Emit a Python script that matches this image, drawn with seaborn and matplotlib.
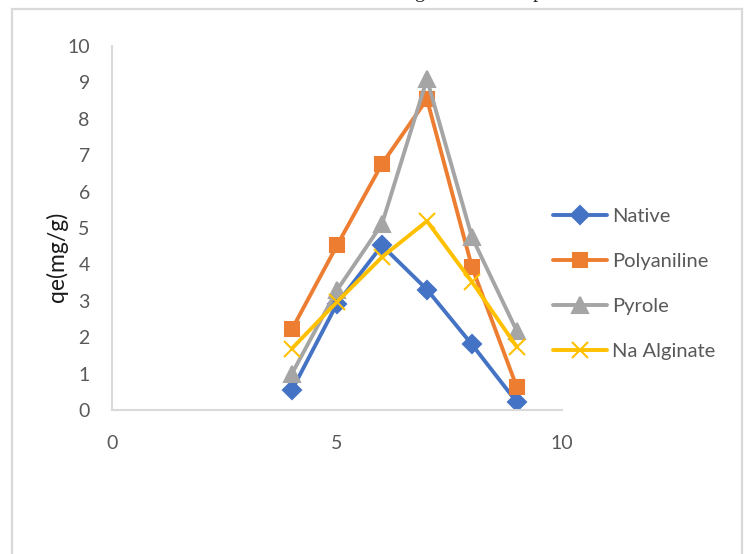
import pandas as pd
import seaborn as sns
import matplotlib.pyplot as plt
from matplotlib.patches import Rectangle

# valores
ph = [4, 5, 6, 7, 8, 9]
native = [0.55, 2.92, 4.52, 3.31, 1.80, 0.21]
polyaniline = [2.22, 4.52, 6.76, 8.54, 3.93, 0.62]
pyrole = [1.00, 3.29, 5.11, 9.09, 4.75, 2.16]
na_alginate = [1.69, 2.97, 4.20, 5.19, 3.52, 1.73]
series = ["Native", "Polyaniline", "Pyrole", "Na Alginate"]

df = pd.DataFrame({"pH": ph * 4,
                   "qe": native + polyaniline + pyrole + na_alginate,
                   "Serie": [s for s in series for _ in ph]})

sns.set_style("white")
plt.rcParams["font.family"] = ["Lato", "DejaVu Sans"]

colores = {"Native": "#4472C4", "Polyaniline": "#ED7D31",
           "Pyrole": "#A5A5A5", "Na Alginate": "#FFC000"}
marcadores = {"Native": "D", "Polyaniline": "s", "Pyrole": "^", "Na Alginate": "x"}
tamanos = {"Native": 9, "Polyaniline": 10, "Pyrole": 11, "Na Alginate": 11}

fig = plt.figure(figsize=(7.45, 5.54), dpi=100)
ax = fig.add_axes([0.1503, 0.2599, 0.604, 0.657])

# una llamada por serie porque se mezclan marcadores rellenos y de linea
for s in series:
    sns.lineplot(data=df[df["Serie"] == s], x="pH", y="qe", label=s,
                 color=colores[s], marker=marcadores[s], linewidth=2.8,
                 markersize=tamanos[s], markeredgewidth=1.5,
                 markeredgecolor=colores[s], ax=ax)

ax.set_xlim(0, 10)
ax.set_ylim(0, 10)
ax.set_xticks([0, 5, 10])
ax.set_yticks(range(0, 11))
ax.tick_params(axis="y", length=0, pad=16, labelsize=14, labelcolor="#595959")
ax.tick_params(axis="x", length=0, pad=18, labelsize=14, labelcolor="#595959")
ax.set_xlabel("")
ax.set_ylabel("qe(mg/g)", fontsize=16.5, color="#1a1a1a")
ax.yaxis.set_label_coords(-0.098, 0.42)
for lado in ["top", "right"]:
    ax.spines[lado].set_visible(False)
for lado in ["left", "bottom"]:
    ax.spines[lado].set_color("#d9d9d9")
    ax.spines[lado].set_linewidth(1.5)

leg = ax.legend(loc="center left", bbox_to_anchor=(0.94, 0.346), frameon=False,
                handlelength=2.7, labelspacing=1.38,
                handletextpad=0.25, prop={"size": 14.5})
for t in leg.get_texts():
    t.set_color("#595959")

# borde del area del grafico
fig.patches.append(Rectangle((12 / 745, -0.1), 730 / 745, (554 - 9) / 554 + 0.1,
                             transform=fig.transFigure, fill=False,
                             ec="#d9d9d9", lw=1.6))

# titulo cortado arriba
fig.text(284 / 745, 1.0 + 3 / 554, "Effect of loading on the adsorption",
         family="Liberation Serif", fontsize=15, va="baseline", ha="left")

fig.savefig("out.png", dpi=100)
